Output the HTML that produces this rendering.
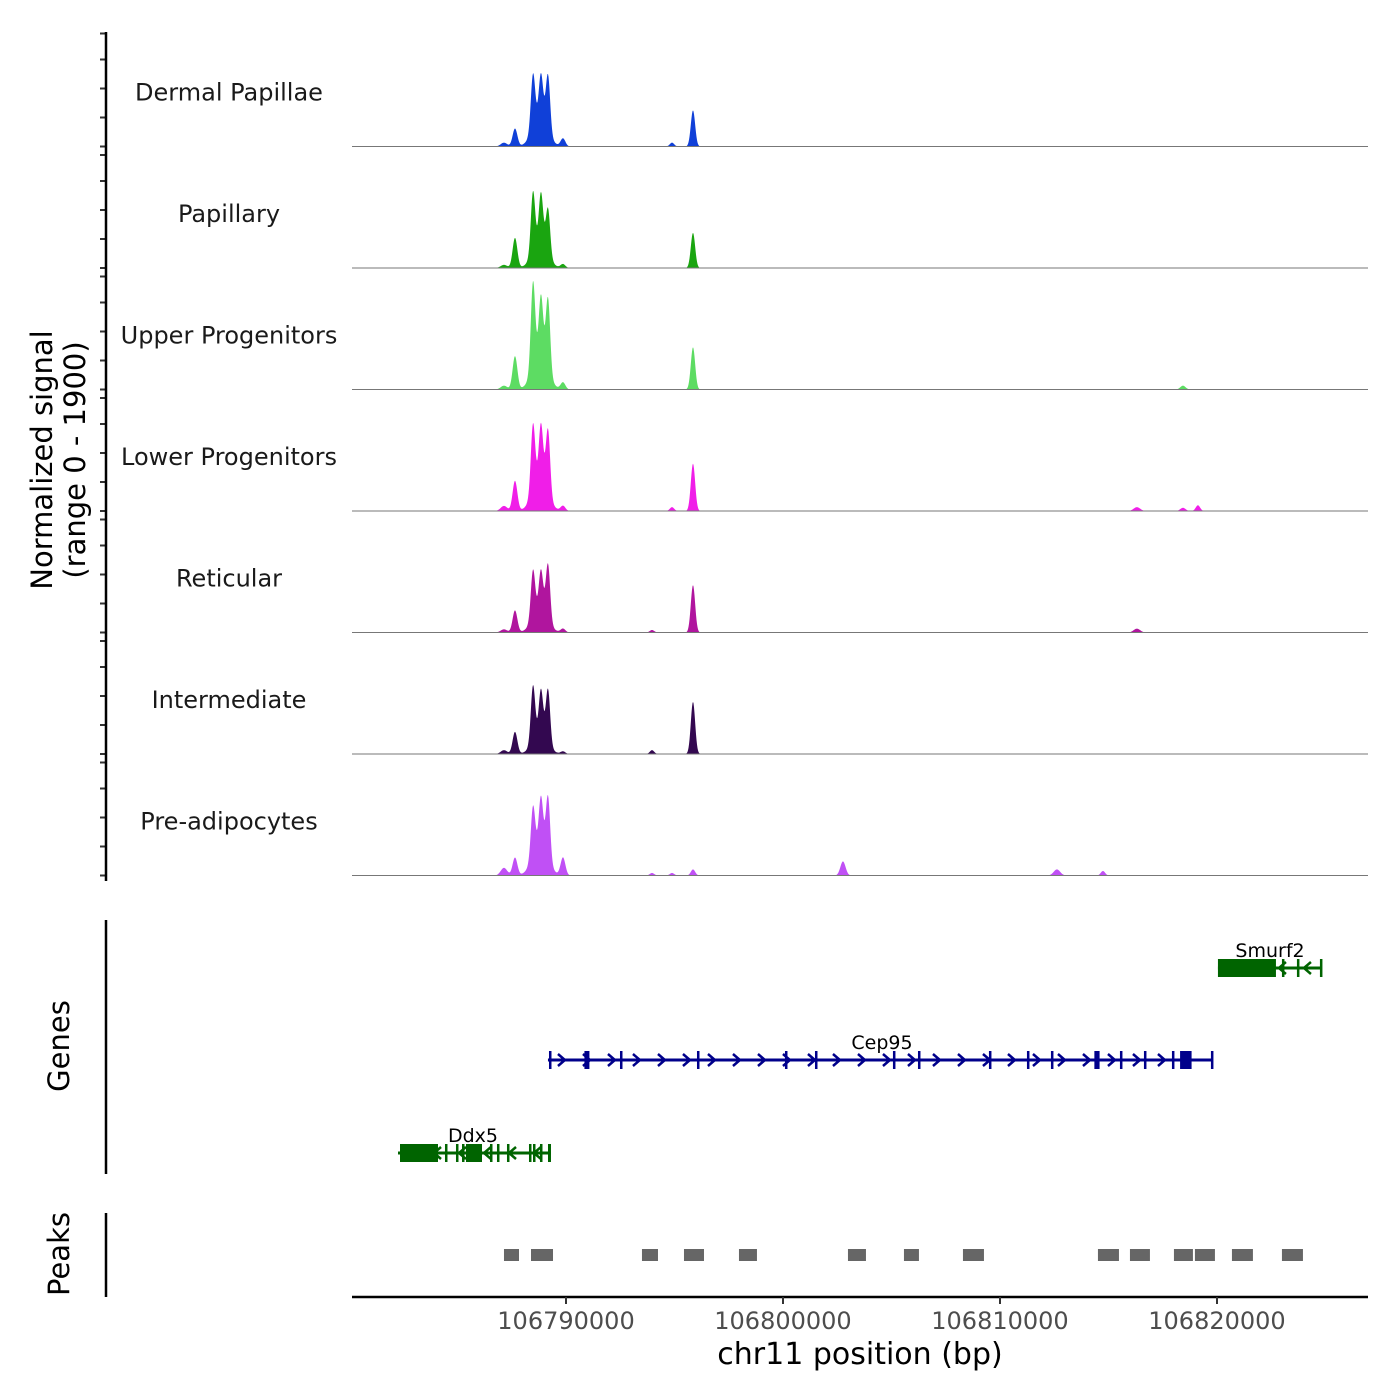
<!DOCTYPE html>
<html><head><meta charset="utf-8">
<style>
body{margin:0;background:#fff;}
svg{display:block;font-family:"DejaVu Sans","Liberation Sans",sans-serif;}
</style></head>
<body>
<svg id="chart" width="1400" height="1400" viewBox="0 0 1400 1400"></svg>
<script>
// ---- data ----
const trackNames = ["Dermal Papillae","Papillary","Upper Progenitors","Lower Progenitors","Reticular","Intermediate","Pre-adipocytes"];
const trackColors = ["#1040d8","#1aa510","#5ddc63","#f01ee8","#b0159e","#330850","#c050f5"];
const peakPositions = [106787142,106787649,106788479,106788847,106789170,106789861,106788801,106795852,106794885,106793963,106802763,106812624,106814744,106816310,106818430,106819121];
const peakWidths    = [150,110,100,100,100,110,350,100,100,100,120,150,100,150,120,100];
const sigDermal   = [60,280,870,730,890,125,420,565,60,0,0,0,0,0,0,0];
const sigPapillary= [50,470,970,830,735,60,360,550,0,0,0,0,0,0,0,0];
const sigUpper    = [60,520,1370,990,1155,110,500,660,0,0,0,0,0,0,60,0];
const sigLower    = [80,470,1080,930,1030,80,450,740,60,0,0,0,0,60,50,90];
const sigReticular= [50,345,770,660,890,60,330,740,0,40,0,0,0,60,0,0];
const sigInterm   = [60,345,895,740,860,40,280,815,0,60,0,0,0,0,0,0];
const sigPreadipo = [120,280,800,800,994,280,450,95,40,40,220,95,70,0,0,0];
const trackSignals = [sigDermal,sigPapillary,sigUpper,sigLower,sigReticular,sigInterm,sigPreadipo];
const xTicks = [106790000,106800000,106810000,106820000];
const xTickLabels = ["106790000","106800000","106810000","106820000"];
const peakStarts = [106787142,106788387,106793501,106795437,106797971,106802994,106805574,106808293,106814514,106815989,106818016,106818983,106820689,106822993];
const peakEnds   = [106787834,106789401,106794239,106796359,106798800,106803823,106806265,106809261,106815482,106816910,106818891,106819905,106821656,106823961];
const geneNames = ["Smurf2","Cep95","Ddx5"];
const geneStarts = [106820044,106789169,106782258];
const geneEnds = [106824836,106819749,106789308];
const geneStrand = [-1,1,-1];
const geneExonStarts = [
 [106820044,106822993,106823684,106824744],
 [106789216,106790849,106792488,106796036,106800091,106801474,106805067,106806220,106809491,106811242,106812348,106814349,106815528,106816634,106817924,106818299,106819721],
 [106782350,106784423,106784930,106785207,106785391,106786497,106786819,106787280,106788294,106788479,106788801,106789170]
];
const geneExonEnds = [
 [106822717,106823059,106823749,106824836],
 [106789279,106791079,106792549,106796099,106800149,106801539,106805129,106806289,106809549,106811299,106812409,106814589,106815589,106816699,106817989,106818829,106819789],
 [106784101,106784489,106784999,106785269,106786129,106786559,106786889,106787349,106788359,106788549,106788869,106789308]
];
const geneColors = ["#006400","#00008b","#006400"];
const signalMax = 1900;

// ---- scales ----
const X0=352, X1=1368, D0=106780138, D1=106826959;
const xs = v => X0 + (v-D0)/(D1-D0)*(X1-X0);
const trackTop = 25, trackH = 121.5;
const base = i => trackTop + (i+1)*trackH;
const ys = (i,v) => base(i) - v/signalMax*trackH;

const svg = document.getElementById('chart');
const NS="http://www.w3.org/2000/svg";
function mk(tag,attrs,parent){const e=document.createElementNS(NS,tag);for(const k in attrs)e.setAttribute(k,attrs[k]);(parent||svg).appendChild(e);return e;}

// tracks
for(let i=0;i<trackNames.length;i++){
  const g=mk('g',{});
  
  
  const sig=trackSignals[i];
  let d='M'+X0+','+base(i);
  for(let px=X0;px<=X1;px+=0.5){
    const bp=D0+(px-X0)/(X1-X0)*(D1-D0);
    let v=0;
    for(let k=0;k<peakPositions.length;k++){
      const z=(bp-peakPositions[k])/peakWidths[k];
      v+=sig[k]*Math.exp(-0.5*z*z);
    }
    v=Math.min(v,signalMax);
    d+=' L'+px.toFixed(1)+','+ys(i,v).toFixed(2);
  }
  d+=' L'+X1+','+base(i)+' Z';
  const area=mk('path',{d:d,fill:trackColors[i]},g);
  
  
  const bl=mk('line',{x1:X0,x2:X1,y1:base(i),y2:base(i),stroke:'#777','stroke-width':1},g);
  
  
  const t=mk('text',{x:229,y:base(i)-46,'text-anchor':'middle','font-size':24,fill:'#1a1a1a'},g);
  t.textContent=trackNames[i];
  
  
  for(let k=0;k<4;k++){
    const ty=base(i)-k*29;
    const tk=mk('line',{x1:100,x2:106,y1:ty,y2:ty,stroke:'#333','stroke-width':2},g);
    
    
  }
  const tt=mk('line',{x1:100,x2:106,y1:base(i)-113,y2:base(i)-113,stroke:'#333','stroke-width':2},g);
  
  
}
const ya=mk('line',{x1:106,x2:106,y1:32,y2:881,stroke:'#000','stroke-width':2.5});


const yt=mk('text',{transform:'translate(52,460) rotate(-90)','text-anchor':'middle','font-size':29,fill:'#000'});


yt.innerHTML='<tspan x="0" dy="0">Normalized signal</tspan><tspan x="0" dy="33">(range 0 - 1900)</tspan>';

// genes
const gy=[968,1060,1153];
const ga=mk('line',{x1:106,x2:106,y1:920,y2:1174,stroke:'#000','stroke-width':2.5});


const gt=mk('text',{transform:'translate(69,1046) rotate(-90)','text-anchor':'middle','font-size':29});
gt.textContent='Genes';


for(let i=0;i<geneNames.length;i++){
  const g=mk('g',{});
  
  
  const c=geneColors[i], y=gy[i], x1=xs(geneStarts[i]), x2=xs(geneEnds[i]);
  mk('line',{x1:x1,x2:x2,y1:y,y2:y,stroke:c,'stroke-width':3},g);
  for(let a=x1+14;a<x2-8;a+=25){
    const s=geneStrand[i];
    mk('polyline',{points:(a-4*s)+','+(y-6)+' '+(a+3*s)+','+y+' '+(a-4*s)+','+(y+6),fill:'none',stroke:c,'stroke-width':2.5},g);
  }
  for(let k=0;k<geneExonStarts[i].length;k++){
    const ex1=xs(geneExonStarts[i][k]), ex2=xs(geneExonEnds[i][k]);
    const w=Math.max(ex2-ex1,2.5);
    mk('rect',{x:ex1,y:y-9,width:w,height:18,fill:c},g);
  }
  const lab=mk('text',{x:(i==2?473:(i==1?882:1270)),y:y-11,'text-anchor':'middle','font-size':19,fill:'#000'},g);
  lab.textContent=geneNames[i];
}

// peaks
const pa=mk('line',{x1:106,x2:106,y1:1213,y2:1297,stroke:'#000','stroke-width':2.5});


const pt=mk('text',{transform:'translate(69,1254) rotate(-90)','text-anchor':'middle','font-size':29});
pt.textContent='Peaks';


for(let k=0;k<peakStarts.length;k++){
  const r=mk('rect',{x:xs(peakStarts[k]),y:1249,width:xs(peakEnds[k])-xs(peakStarts[k]),height:12,fill:'#666'});
  
  
}

// x axis
const xa=mk('line',{x1:X0,x2:X1,y1:1297,y2:1297,stroke:'#000','stroke-width':2.5});


for(let k=0;k<xTicks.length;k++){
  const x=xs(xTicks[k]);
  const tk=mk('line',{x1:x,x2:x,y1:1297,y2:1304,stroke:'#333','stroke-width':2});
  
  
  const tl=mk('text',{x:x,y:1329,'text-anchor':'middle','font-size':24,fill:'#4d4d4d'});
  tl.textContent=xTickLabels[k];
  
  
}
const xt=mk('text',{x:860,y:1364,'text-anchor':'middle','font-size':30,fill:'#000'});
xt.textContent='chr11 position (bp)';


</script>
</body></html>
